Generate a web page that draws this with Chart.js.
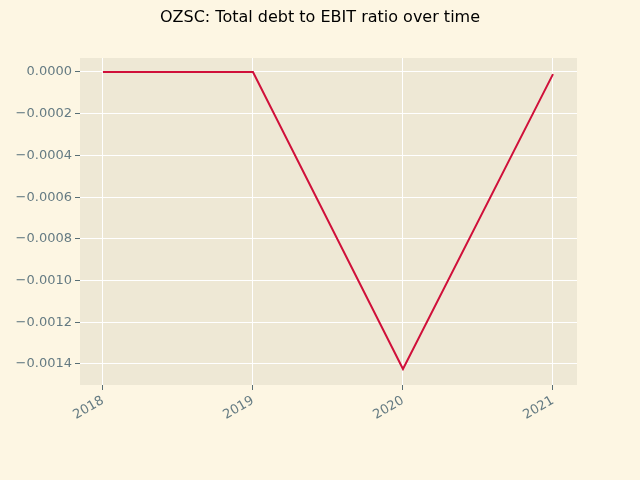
<!DOCTYPE html>
<html>
<head>
<meta charset="utf-8">
<script src="https://cdn.jsdelivr.net/npm/chart.js@4/dist/chart.umd.min.js"></script>
<style>
  html, body { margin: 0; padding: 0; background: #fdf6e3; }
  #wrap { width: 640px; height: 480px; }
</style>
</head>
<body>
<div id="wrap"><canvas id="my-chart" width="640" height="480"></canvas></div>
<script>
let years = [2018, 2019, 2020, 2021];
let ratios = [0, 0, -0.001424, -0.00001];
let yTicks = [0, -0.0002, -0.0004, -0.0006, -0.0008, -0.0010, -0.0012, -0.0014];
let titleText = 'OZSC: Total debt to EBIT ratio over time';

let points = [];
for (let i = 0; i < years.length; i++) {
  points.push({ x: years[i], y: ratios[i] });
}

let decor = {
  id: 'decor',
  beforeDraw(chart) {
    let ctx = chart.ctx;
    let a = chart.chartArea;
    ctx.save();
    ctx.fillStyle = '#fdf6e3';
    ctx.fillRect(0, 0, chart.width, chart.height);
    ctx.fillStyle = '#eee8d5';
    ctx.fillRect(a.left, a.top, a.right - a.left, a.bottom - a.top);
    ctx.restore();
  },
  afterDraw(chart) {
    let ctx = chart.ctx;
    ctx.save();
    ctx.fillStyle = '#000';
    ctx.font = '16px "DejaVu Sans"';
    ctx.textAlign = 'center';
    ctx.textBaseline = 'middle';
    ctx.fillText(titleText, 320, 18);
    ctx.restore();
  }
};

let chartcontext = document.getElementById('my-chart').getContext('2d');
let mychart = new Chart(chartcontext, {
  type: 'line',
  data: {
    datasets: [{
      data: points,
      borderColor: '#d0103a',
      borderWidth: 2,
      pointRadius: 0,
      tension: 0
    }]
  },
  options: {
    responsive: false,
    animation: false,
    layout: { padding: { top: 58, right: 63 } },
    plugins: { legend: { display: false }, title: { display: false }, tooltip: { enabled: false } },
    scales: {
      x: {
        type: 'linear',
        min: 2017.847,
        max: 2021.16,
        afterBuildTicks: s => { s.ticks = years.map(v => ({ value: v })); },
        afterFit: s => { s.height = 95; },
        grid: { color: '#ffffff', lineWidth: 1, drawTicks: true, tickLength: 5, tickColor: '#586e75' },
        border: { display: false },
        ticks: {
          color: '#657b83',
          font: { family: 'DejaVu Sans', size: 13 },
          minRotation: 30,
          maxRotation: 30,
          callback: v => String(v)
        }
      },
      y: {
        min: -0.0015007,
        max: 0.0000671,
        afterBuildTicks: s => { s.ticks = yTicks.map(v => ({ value: v })); },
        afterFit: s => { s.width = 80; },
        grid: { color: '#ffffff', lineWidth: 1, drawTicks: true, tickLength: 5, tickColor: '#586e75' },
        border: { display: false },
        ticks: {
          color: '#657b83',
          font: { family: 'DejaVu Sans', size: 13 },
          callback: v => Math.abs(v) < 1e-9 ? '0.0000' : v.toFixed(4).replace('-', '\u2212')
        }
      }
    }
  },
  plugins: [decor]
});
</script>
</body>
</html>
